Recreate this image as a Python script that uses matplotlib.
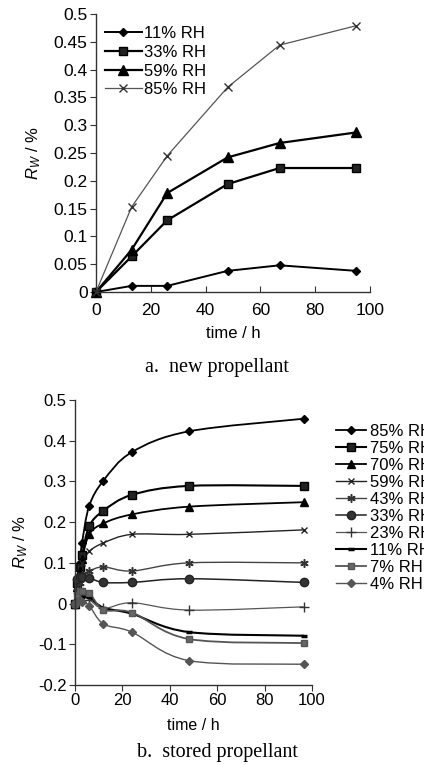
import numpy as np
import matplotlib
matplotlib.use("Agg")
import matplotlib.pyplot as plt
from matplotlib.path import Path
from matplotlib.patches import PathPatch
from matplotlib.lines import Line2D

plt.rcParams['font.family'] = ['Liberation Sans', 'DejaVu Sans']
plt.rcParams['mathtext.fontset'] = 'custom'
plt.rcParams['mathtext.it'] = 'Liberation Sans:italic'
plt.rcParams['mathtext.rm'] = 'Liberation Sans'

# ---------------- data: (a) new propellant ----------------
time_a = [0, 13, 26, 48, 67, 95]
rh11_a = [0, 0.011, 0.011, 0.038, 0.048, 0.038]
rh33_a = [0, 0.064, 0.129, 0.194, 0.223, 0.223]
rh59_a = [0, 0.076, 0.178, 0.242, 0.268, 0.287]
rh85_a = [0, 0.153, 0.245, 0.368, 0.444, 0.479]
labels_a = ['11% RH', '33% RH', '59% RH', '85% RH']

# ---------------- data: (b) stored propellant ----------------
time_b = [0, 1, 2, 3, 6, 12, 24, 48, 96.5]
rh85_b = [0, 0.06, 0.10, 0.15, 0.24, 0.302, 0.372, 0.423, 0.454]
rh75_b = [0, 0.05, 0.09, 0.12, 0.19, 0.228, 0.267, 0.289, 0.289]
rh70_b = [0, 0.04, 0.08, 0.11, 0.17, 0.197, 0.219, 0.238, 0.249]
rh59_b = [0, 0.04, 0.07, 0.10, 0.128, 0.149, 0.170, 0.170, 0.181]
rh43_b = [0, 0.03, 0.05, 0.07, 0.080, 0.090, 0.080, 0.100, 0.100]
rh33_b = [0, 0.06, 0.065, 0.065, 0.063, 0.052, 0.052, 0.061, 0.052]
rh23_b = [0, 0.01, 0.02, 0.02, 0.010, -0.012, 0.002, -0.016, -0.008]
rh11_b = [0, 0.01, 0.015, 0.015, 0.015, -0.010, -0.025, -0.070, -0.079]
rh7_b = [0, 0.02, 0.03, 0.03, 0.027, -0.015, -0.022, -0.087, -0.097]
rh4_b = [0, 0.005, 0.01, 0.005, -0.005, -0.050, -0.070, -0.140, -0.149]
labels_b = ['85% RH', '75% RH', '70% RH', '59% RH', '43% RH',
            '33% RH', '23% RH', '11% RH', '7% RH', '4% RH']

fig = plt.figure(figsize=(4.24, 7.65), dpi=100)

# ================= top chart =================
ax1 = fig.add_axes([96/424, 1-292/765, 274/424, 278/765])
styles_a = [
    dict(color='black', lw=1.4, marker='D', ms=4.5, mfc='black', mec='black'),
    dict(color='black', lw=1.6, marker='s', ms=6, mfc='#222222', mec='black'),
    dict(color='black', lw=1.6, marker='^', ms=6.5, mfc='black', mec='black'),
    dict(color='#555555', lw=0.9, marker='x', ms=6, mew=1.0, mec='#333333'),
]
for ys, lab, st in zip([rh11_a, rh33_a, rh59_a, rh85_a], labels_a, styles_a):
    ax1.plot(time_a, ys, label=lab, clip_on=False, **st)

ax1.set_xlim(0, 100)
ax1.set_ylim(0, 0.5)
ax1.set_xticks([0, 20, 40, 60, 80, 100])
ax1.set_yticks([0, 0.05, 0.1, 0.15, 0.2, 0.25, 0.3, 0.35, 0.4, 0.45, 0.5])
ax1.set_yticklabels(['0', '0.05', '0.1', '0.15', '0.2', '0.25', '0.3',
                     '0.35', '0.4', '0.45', '0.5'])
for s in ['top', 'right']:
    ax1.spines[s].set_visible(False)
for s in ['left', 'bottom']:
    ax1.spines[s].set_color('#333333')
    ax1.spines[s].set_linewidth(1.0)
ax1.tick_params(axis='x', direction='in', length=4, labelsize=12.5, pad=8, colors='#333333', labelcolor='black')
ax1.tick_params(axis='y', direction='out', length=4, labelsize=12.5, pad=2, colors='#333333', labelcolor='black')
ax1.set_xlabel('time / h', fontsize=12, labelpad=6)
ax1.set_ylabel(r'$R_W$ / %', fontsize=12, labelpad=8)
ax1.legend(loc='upper left', bbox_to_anchor=(0.018, 0.971), frameon=False, fontsize=12,
           numpoints=1, handlelength=2.2, handletextpad=0.15, labelspacing=0.22,
           borderaxespad=0.0, borderpad=0.25)
fig.text(217/424, 1-367/765, 'a.  new propellant', family='Liberation Serif',
         fontsize=14.5, ha='center', va='center')

# ================= bottom chart =================
ax2 = fig.add_axes([75/424, 1-685/765, 237/424, 285/765])

def smooth_patch(x, y, **kw):
    pts = np.column_stack([x, y]).astype(float)
    n = len(pts)
    verts = [pts[0]]
    codes = [Path.MOVETO]
    for i in range(n - 1):
        p0 = pts[i - 1] if i > 0 else pts[i]
        p1 = pts[i]
        p2 = pts[i + 1]
        p3 = pts[i + 2] if i + 2 < n else pts[i + 1]
        c1 = p1 + (p2 - p0) / 6.0
        c2 = p2 - (p3 - p1) / 6.0
        verts += [c1, c2, p2]
        codes += [Path.CURVE4] * 3
    return PathPatch(Path(verts, codes), fill=False, **kw)

styles_b = [
    dict(color='black', lw=1.3, marker='D', ms=4.2, mfc='black', mec='black'),
    dict(color='black', lw=1.5, marker='s', ms=5.8, mfc='#222222', mec='black'),
    dict(color='black', lw=1.3, marker='^', ms=5.8, mfc='black', mec='black'),
    dict(color='#222222', lw=1.0, marker='x', ms=5, mew=1.0, mec='#222222'),
    dict(color='#444444', lw=1.0, marker=(6, 2, 0), ms=6, mew=1.1, mec='#333333'),
    dict(color='#222222', lw=1.1, marker='o', ms=6, mfc='#333333', mec='#222222'),
    dict(color='#555555', lw=0.9, marker='+', ms=6.5, mew=1.0, mec='#333333'),
    dict(color='black', lw=1.5, marker='_', ms=5, mew=2.5, mec='black'),
    dict(color='#555555', lw=1.3, marker='s', ms=4.8, mfc='#666666', mec='#555555'),
    dict(color='#555555', lw=1.0, marker='D', ms=4, mfc='#555555', mec='#555555'),
]
series_b = [rh85_b, rh75_b, rh70_b, rh59_b, rh43_b, rh33_b, rh23_b, rh11_b, rh7_b, rh4_b]
handles = []
for ys, lab, st in zip(series_b, labels_b, styles_b):
    st = dict(st)
    color = st.pop('color')
    lw = st.pop('lw')
    ax2.add_patch(smooth_patch(time_b, ys, edgecolor=color, lw=lw, clip_on=False))
    ax2.plot(time_b, ys, ls='none', clip_on=False, **st)
    handles.append(Line2D([], [], color=color, lw=lw, label=lab, **st))

ax2.set_xlim(0, 100)
ax2.set_ylim(-0.2, 0.5)
ax2.set_xticks([0, 20, 40, 60, 80, 100])
ax2.set_yticks([-0.2, -0.1, 0, 0.1, 0.2, 0.3, 0.4, 0.5])
ax2.set_yticklabels(['-0.2', '-0.1', '0', '0.1', '0.2', '0.3', '0.4', '0.5'])
for s in ['top', 'right']:
    ax2.spines[s].set_visible(False)
for s in ['left', 'bottom']:
    ax2.spines[s].set_color('#333333')
    ax2.spines[s].set_linewidth(1.0)
ax2.tick_params(axis='both', direction='out', length=4, labelsize=12, pad=2,
                colors='#333333', labelcolor='black')
ax2.set_xlabel('time / h', fontsize=11.5, labelpad=7)
ax2.set_ylabel(r'$R_W$ / %', fontsize=12, labelpad=6)
ax2.legend(handles=handles, loc='upper left', bbox_to_anchor=(336/424, 1-424/765),
           bbox_transform=fig.transFigure, frameon=False, fontsize=12,
           numpoints=1, handlelength=1.8, handletextpad=0.25, labelspacing=0.12,
           borderaxespad=0, borderpad=0)
fig.text(217/424, 1-753/765, 'b.  stored propellant', family='Liberation Serif',
         fontsize=14.5, ha='center', va='center')

fig.savefig('out.png', dpi=100)
